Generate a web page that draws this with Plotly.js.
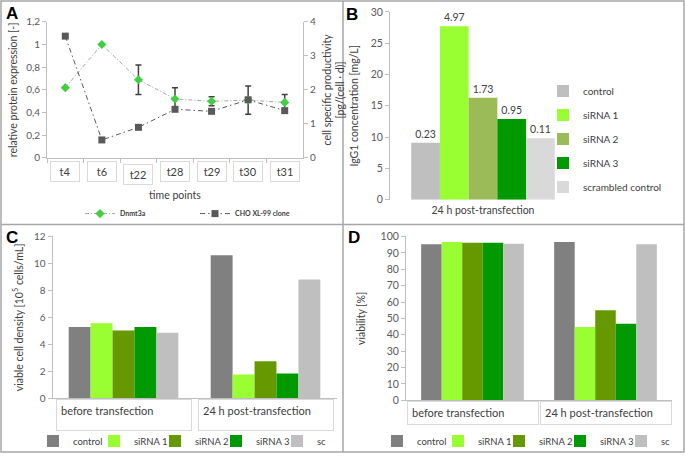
<!DOCTYPE html>
<html>
<head>
<meta charset="utf-8">
<script src="https://cdn.plot.ly/plotly-3.0.1.min.js"></script>
<style>html,body{margin:0;padding:0;background:#fff}#chart{width:685px;height:456px}</style>
</head>
<body>
<div id="chart"></div>
<script>
// ---------- Panel A ----------
const timePoints = ['t4', 't6', 't22', 't28', 't29', 't30', 't31'];
const dnmt3a = [0.62, 1.00, 0.69, 0.52, 0.50, 0.51, 0.49];
const dnmt3aErr = [0, 0, 0.13, 0.10, 0.04, 0.125, 0.07];
const choXL99 = [3.58, 0.53, 0.90, 1.43, 1.37, 1.71, 1.39];

// ---------- Panel B ----------
const bCategory = ['24 h post-transfection'];
const bGroups = ['control', 'siRNA 1', 'siRNA 2', 'siRNA 3', 'scrambled control'];
const bIgG1 = [9.1, 27.7, 16.3, 12.9, 9.8];
const bLabels = ['0.23', '4.97', '1.73', '0.95', '0.11'];
const bColors = ['#bfbfbf', '#99ff33', '#9bbb59', '#009900', '#d9d9d9'];

// ---------- Panels C & D ----------
const cdCategories = ['before transfection', '24 h post-transfection'];
const cdGroups = ['control', 'siRNA 1', 'siRNA 2', 'siRNA 3', 'sc'];
const vcdBefore = [5.28, 5.57, 5.03, 5.28, 4.86];
const vcdAfter = [10.6, 1.77, 2.75, 1.84, 8.81];
const viaBefore = [95.2, 96.6, 96.2, 96.2, 95.6];
const viaAfter = [96.6, 44.7, 54.9, 46.7, 95.2];
const cdColors = ['#808080', '#99ff33', '#669900', '#009900', '#bfbfbf'];

const W = 685, H = 456;
const px = v => v / W;
const py = v => 1 - v / H;
const FONT = 'Lato, "Open Sans", sans-serif';
const tickFont = {family: FONT, size: 10, color: '#595959'};
const titleFont = {family: FONT, size: 10.5, color: '#404040'};

const axBase = {
  showline: true, linecolor: '#bfbfbf', linewidth: 1,
  ticks: 'outside', ticklen: 4, tickcolor: '#bfbfbf',
  showgrid: false, zeroline: false, tickfont: tickFont, automargin: false
};

const traces = [];
traces.push({
  type: 'scatter', mode: 'lines+markers', name: 'Dnmt3a',
  x: timePoints, y: dnmt3a, xaxis: 'x', yaxis: 'y',
  line: {color: '#a6a6a6', width: 1, dash: '4px,2px,1px,2px'},
  marker: {symbol: 'diamond', size: 7, color: '#3fcf3f'},
  error_y: {type: 'data', array: dnmt3aErr, visible: true, color: '#404040', thickness: 1.5, width: 3},
  legend: 'legend', cliponaxis: false
});
traces.push({
  type: 'scatter', mode: 'lines+markers', name: 'CHO XL-99 clone',
  x: timePoints, y: choXL99, xaxis: 'x', yaxis: 'y2',
  line: {color: '#595959', width: 1, dash: '5px,3px,1.5px,3px'},
  marker: {symbol: 'square', size: 7, color: '#595959'},
  legend: 'legend', cliponaxis: false
});

bGroups.forEach((g, i) => {
  traces.push({
    type: 'bar', name: g, x: bCategory, y: [bIgG1[i]],
    xaxis: 'x2', yaxis: 'y3', marker: {color: bColors[i]},
    text: [bLabels[i]], textposition: 'outside', cliponaxis: false,
    textfont: {family: FONT, size: 10.5, color: '#404040'},
    legend: 'legend2', legendgroup: 'b' + i
  });
});
cdGroups.forEach((g, i) => {
  traces.push({
    type: 'bar', name: g, x: cdCategories, y: [vcdBefore[i], vcdAfter[i]],
    xaxis: 'x3', yaxis: 'y4', marker: {color: cdColors[i]},
    legend: 'legend3'
  });
});
cdGroups.forEach((g, i) => {
  traces.push({
    type: 'bar', name: g, x: cdCategories, y: [viaBefore[i], viaAfter[i]],
    xaxis: 'x4', yaxis: 'y5', marker: {color: cdColors[i]},
    legend: 'legend4'
  });
});

const annotations = [];
// panel letters
[['A', 12, 14], ['B', 352, 15], ['C', 12, 239], ['D', 354, 239]].forEach(([t, x, y]) => {
  annotations.push({text: '<b>' + t + '</b>', xref: 'paper', yref: 'paper', x: px(x), y: py(y),
    xanchor: 'center', yanchor: 'middle', showarrow: false,
    font: {family: 'Liberation Sans, Arial, sans-serif', size: 17, color: '#000'}});
});
// panel A category boxes
timePoints.forEach((t, i) => {
  annotations.push({text: t, xref: 'x', yref: 'paper', x: t, y: py(i === 2 ? 176 : 173),
    xanchor: 'center', yanchor: 'middle', showarrow: false, width: 26, height: 17, borderpad: 1,
    bordercolor: '#d9d9d9', borderwidth: 1, font: {family: FONT, size: 11, color: '#404040'}});
});
// panel C / D category boxes
cdCategories.forEach((c) => {
  annotations.push({text: c, xref: 'x3', yref: 'paper', x: c, y: py(402),
    xanchor: 'center', yanchor: 'top', showarrow: false, width: 126, height: 22, borderpad: 4,
    align: 'left', valign: 'top',
    bordercolor: '#d9d9d9', borderwidth: 1, font: {family: FONT, size: 11, color: '#404040'}});
  annotations.push({text: c, xref: 'x4', yref: 'paper', x: c, y: py(404),
    xanchor: 'center', yanchor: 'top', showarrow: false, width: 122, height: 14, borderpad: 4,
    align: 'left', valign: 'top',
    bordercolor: '#d9d9d9', borderwidth: 1, font: {family: FONT, size: 11, color: '#404040'}});
});

const borderLine = {color: '#a6a6a6', width: 1.5};
const shapes = [
  {type: 'rect', xref: 'paper', yref: 'paper', x0: px(1), x1: px(684), y0: py(1), y1: py(455), line: borderLine},
  {type: 'line', xref: 'paper', yref: 'paper', x0: px(343), x1: px(343), y0: py(1), y1: py(455), line: borderLine},
  {type: 'line', xref: 'paper', yref: 'paper', x0: px(1), x1: px(684), y0: py(226), y1: py(226), line: borderLine}
];

const legendFontBold = {family: FONT, size: 7, color: '#404040', weight: 'bold'};
const legendFont = {family: FONT, size: 10, color: '#404040'};
const legendFontSmall = {family: FONT, size: 9.5, color: '#404040'};

const layout = {
  width: W, height: H,
  margin: {l: 0, r: 0, t: 0, b: 0},
  paper_bgcolor: '#fff', plot_bgcolor: 'rgba(0,0,0,0)',
  separators: ',.',
  barmode: 'group', bargap: 0.228, bargroupgap: 0,
  font: {family: FONT, color: '#404040'},
  xaxis: Object.assign({}, axBase, {
    domain: [px(47), px(303)], anchor: 'y', type: 'category', range: [-0.5, 6.5],
    showticklabels: false, tickson: 'boundaries',
    title: {text: 'time points', font: titleFont, standoff: 33}
  }),
  yaxis: Object.assign({}, axBase, {
    domain: [py(159), py(22)], anchor: 'x', range: [0, 1.2], dtick: 0.2,
    title: {text: 'relative protein expression [-]', font: titleFont, standoff: 6}
  }),
  yaxis2: Object.assign({}, axBase, {
    overlaying: 'y', side: 'right', anchor: 'x', range: [0, 4], dtick: 1,
    title: {text: 'cell specific productivity<br>[pg/(cell · d)]', font: titleFont, standoff: 8}
  }),
  xaxis2: Object.assign({}, axBase, {
    domain: [px(390), px(576)], anchor: 'y3', type: 'category', ticks: '', showline: false,
    ticklabelstandoff: 3, tickfont: {family: FONT, size: 10.5, color: '#404040'}
  }),
  yaxis3: Object.assign({}, axBase, {
    domain: [py(201), py(12)], anchor: 'x2', range: [0, 30], dtick: 5,
    tickfont: {family: FONT, size: 10.5, color: '#595959'},
    title: {text: 'IgG1 concentration [mg/L]', font: titleFont, standoff: 10}
  }),
  xaxis3: Object.assign({}, axBase, {
    domain: [px(52.5), px(336.5)], anchor: 'y4', type: 'category',
    showticklabels: false, ticks: ''
  }),
  yaxis4: Object.assign({}, axBase, {
    domain: [py(401), py(238)], anchor: 'x3', range: [0, 12], dtick: 2,
    title: {text: 'viable cell density [10<sup>5</sup> cells/mL]', font: titleFont, standoff: 8}
  }),
  xaxis4: Object.assign({}, axBase, {
    domain: [px(406), px(672)], anchor: 'y5', type: 'category',
    showticklabels: false, ticks: ''
  }),
  yaxis5: Object.assign({}, axBase, {
    domain: [py(403), py(238)], anchor: 'x4', range: [0, 100], dtick: 10,
    tickfont: {family: FONT, size: 10.5, color: '#595959'},
    title: {text: 'viability [%]', font: titleFont, standoff: 12}
  }),
  legend: {orientation: 'h', x: px(80), y: py(215), xanchor: 'left', yanchor: 'middle',
    font: legendFontBold, entrywidth: 70, bgcolor: 'rgba(0,0,0,0)'},
  legend2: {orientation: 'v', x: px(543), y: py(77), xanchor: 'left', yanchor: 'top',
    font: legendFont, tracegroupgap: 5, bgcolor: 'rgba(0,0,0,0)'},
  legend3: {orientation: 'h', x: px(33), y: py(444), xanchor: 'left', yanchor: 'middle',
    font: legendFontSmall, entrywidth: 16, bgcolor: 'rgba(0,0,0,0)'},
  legend4: {orientation: 'h', x: px(377), y: py(444), xanchor: 'left', yanchor: 'middle',
    font: legendFontSmall, entrywidth: 16, bgcolor: 'rgba(0,0,0,0)'},
  annotations: annotations,
  shapes: shapes
};

Plotly.newPlot('chart', traces, layout, {displayModeBar: false, staticPlot: true});
</script>
</body>
</html>
